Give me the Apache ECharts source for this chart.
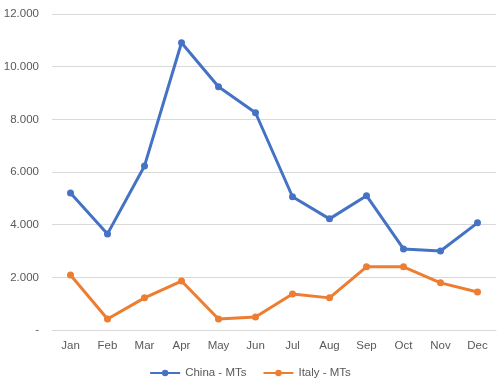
<!DOCTYPE html>
<html><head><meta charset="utf-8">
<script src="https://cdn.jsdelivr.net/npm/echarts@6/dist/echarts.min.js"></script>
<style>html,body{margin:0;padding:0;background:#fff}#c{width:500px;height:381px}</style>
</head><body><div id="c"></div>
<script>
const months = ['Jan','Feb','Mar','Apr','May','Jun','Jul','Aug','Sep','Oct','Nov','Dec'];
const china = [5200,3650,6230,10910,9240,8250,5060,4220,5100,3080,3000,4070];
const italy = [2090,420,1220,1860,420,490,1370,1220,2400,2400,1790,1440];
const yTicks = [0,2000,4000,6000,8000,10000,12000];

const chart = echarts.init(document.getElementById('c'), null, {renderer:'canvas'});
const fmt = v => v === 0 ? '-' : String(v/1000) + '.000';
chart.setOption({
  animation:false,
  textStyle:{fontFamily:'Liberation Sans, Arial, sans-serif'},
  grid:{left:52,right:4,top:14,bottom:51},
  xAxis:{type:'category',data:months,boundaryGap:true,
    axisLine:{lineStyle:{color:'#d9d9d9'}},axisTick:{show:false},
    axisLabel:{color:'#595959',fontSize:11.5,margin:10}},
  yAxis:{type:'value',min:yTicks[0],max:yTicks[yTicks.length-1],interval:2000,
    axisLine:{show:false},axisTick:{show:false},
    splitLine:{lineStyle:{color:'#d9d9d9',width:1}},
    axisLabel:{color:'#595959',fontSize:11.5,formatter:fmt,margin:13}},
  legend:{top:362,left:'center',itemWidth:30,itemHeight:8,itemGap:16,
    textStyle:{color:'#595959',fontSize:11.5},
    data:['China - MTs','Italy - MTs']},
  series:[
    {name:'China - MTs',type:'line',data:china,symbol:'circle',symbolSize:7,
     itemStyle:{color:'#4472C4'},lineStyle:{color:'#4472C4',width:3}},
    {name:'Italy - MTs',type:'line',data:italy,symbol:'circle',symbolSize:7,
     itemStyle:{color:'#ED7D31'},lineStyle:{color:'#ED7D31',width:3}}
  ]
});
</script></body></html>
